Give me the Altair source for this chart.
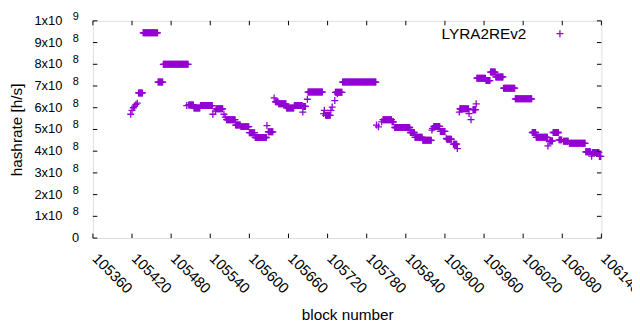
import altair as alt
import pandas as pd

series_name = "LYRA2REv2"

# runs of consecutive blocks with the same hashrate (units of 1e8 h/s)
run_start = [105430, 105437, 105460, 105468, 105507, 105515, 105525, 105549, 105565, 105579,
             105587, 105600, 105609, 105629, 105640, 105645, 105657, 105669, 105683, 105690,
             105717, 105732, 105743, 105805, 105819, 105823, 105847, 105854, 105866, 105883,
             105893, 105903, 105913, 105923, 105943, 105949, 105963, 105970, 105978, 105990,
             106008, 106034, 106040, 106062, 106066, 106075, 106082, 106091, 106116, 106126,
             106137]
run_end = [105436, 105459, 105467, 105506, 105514, 105524, 105543, 105559, 105578, 105586,
           105599, 105608, 105626, 105636, 105644, 105656, 105668, 105681, 105686, 105712,
           105724, 105742, 105794, 105818, 105821, 105846, 105853, 105865, 105879, 105892,
           105900, 105910, 105918, 105936, 105947, 105962, 105969, 105977, 105989, 106007,
           106033, 106039, 106057, 106065, 106074, 106079, 106089, 106115, 106123, 106136,
           106139]
run_value = [6.68, 9.45, 7.18, 8.00, 6.13, 5.99, 6.10, 5.95, 5.45, 5.20,
             5.13, 4.85, 4.63, 4.89, 6.27, 6.18, 5.99, 6.10, 6.06, 6.72,
             5.65, 6.71, 7.18, 5.45, 5.35, 5.09, 4.86, 4.64, 4.50, 5.14,
             4.91, 4.55, 4.32, 5.95, 5.91, 7.36, 7.25, 7.64, 7.42, 6.90,
             6.41, 4.86, 4.64, 4.47, 4.86, 4.52, 4.46, 4.36, 3.97, 3.94,
             3.76]

# isolated blocks
pt_block = [105418, 105420, 105422, 105424, 105426, 105428, 105504, 105544, 105548, 105561,
            105563, 105627, 105638, 105682, 105689, 105714, 105715, 105725, 105727, 105731,
            105735, 105795, 105798, 105803, 105880, 105881, 105902, 105919, 105922, 105937,
            105940, 105948, 106058, 106060, 106125]
pt_value = [5.70, 5.88, 6.00, 6.07, 6.15, 6.21, 6.10, 5.70, 5.85, 5.70,
            5.57, 5.18, 6.45, 5.80, 6.39, 5.73, 5.88, 5.88, 6.03, 6.33,
            6.64, 5.20, 5.12, 5.35, 4.97, 5.05, 4.59, 4.12, 5.80, 5.73,
            5.45, 6.18, 4.24, 4.44, 3.77]

x_ticks = [105360, 105420, 105480, 105540, 105600, 105660, 105720, 105780, 105840,
           105900, 105960, 106020, 106080, 106140]
x_tick_labels = [str(t) for t in x_ticks]
y_ticks = [0, 1e8, 2e8, 3e8, 4e8, 5e8, 6e8, 7e8, 8e8, 9e8, 1e9]
y_label_main = ["0", "1x10", "2x10", "3x10", "4x10", "5x10", "6x10", "7x10", "8x10", "9x10", "1x10"]
y_label_exp = ["", "8", "8", "8", "8", "8", "8", "8", "8", "8", "9"]

rows = []
for s, e, v in zip(run_start, run_end, run_value):
    for b in range(s, e + 1):
        rows.append({"block": b, "hashrate": v * 1e8})
for b, v in zip(pt_block, pt_value):
    rows.append({"block": b, "hashrate": v * 1e8})
df = pd.DataFrame(rows)

W, H = 515, 220
PURPLE = "#9400D3"
FONT = "Liberation Sans"
PLUS = "M-1,0H1M0,-1V1"
TICK = 4.5

xscale = alt.Scale(domain=[105360, 106140], nice=False, zero=False)
yscale = alt.Scale(domain=[0, 1e9], nice=False)

points = alt.Chart(df).mark_point(
    shape=PLUS, filled=False, size=50, strokeWidth=1.3, color=PURPLE, opacity=1
).encode(
    x=alt.X("block:Q", scale=xscale, title="block number",
            axis=alt.Axis(values=x_ticks, labels=False, tickSize=0, ticks=False,
                          domain=False, grid=False, titleFont=FONT, titleFontSize=15.5,
                          titleFontWeight="normal", titleColor="black",
                          titleY=82, titleBaseline="alphabetic")),
    y=alt.Y("hashrate:Q", scale=yscale, title="hashrate [h/s]",
            axis=alt.Axis(values=y_ticks, labels=False, tickSize=0, ticks=False,
                          domain=False, grid=False, titleFont=FONT,
                          titleFontSize=15.5, titleFontWeight="normal", titleColor="black",
                          titleX=-77, titleBaseline="middle")),
)

xt = pd.DataFrame({"t": x_ticks, "lab": x_tick_labels})
yt = pd.DataFrame({"t": y_ticks, "main": y_label_main, "exp": y_label_exp})
tick_style = dict(color="black", strokeWidth=1)

xb = alt.Chart(xt).mark_rule(**tick_style).encode(
    x=alt.X("t:Q", scale=xscale), y=alt.value(H), y2=alt.value(H - TICK))
xtop = alt.Chart(xt).mark_rule(**tick_style).encode(
    x=alt.X("t:Q", scale=xscale), y=alt.value(0), y2=alt.value(TICK))
yl = alt.Chart(yt).mark_rule(**tick_style).encode(
    y=alt.Y("t:Q", scale=yscale), x=alt.value(0), x2=alt.value(TICK))
yr = alt.Chart(yt).mark_rule(**tick_style).encode(
    y=alt.Y("t:Q", scale=yscale), x=alt.value(W), x2=alt.value(W - TICK))

xlab = alt.Chart(xt).mark_text(
    align="left", baseline="middle", angle=45, font=FONT, fontSize=15, color="black", dx=3
).encode(x=alt.X("t:Q", scale=xscale), y=alt.value(H + 16), text="lab:N")

ylab_main = alt.Chart(yt).transform_filter("datum.t > 0").mark_text(
    align="right", baseline="middle", font=FONT, fontSize=13, color="black"
).encode(y=alt.Y("t:Q", scale=yscale), x=alt.value(-31), text="main:N")
ylab_zero = alt.Chart(yt).transform_filter("datum.t == 0").mark_text(
    align="right", baseline="middle", font=FONT, fontSize=13, color="black"
).encode(y=alt.Y("t:Q", scale=yscale), x=alt.value(-14), text="main:N")
ylab_exp = alt.Chart(yt).transform_filter("datum.t > 0").mark_text(
    align="left", baseline="middle", font=FONT, fontSize=11, color="black", dy=-4
).encode(y=alt.Y("t:Q", scale=yscale), x=alt.value(-20.5), text="exp:N")

leg = pd.DataFrame({"label": [series_name]})
leg_text = alt.Chart(leg).mark_text(
    align="right", baseline="middle", font=FONT, fontSize=15.5, color="black"
).encode(text="label:N", x=alt.value(439), y=alt.value(13))
leg_sym = alt.Chart(leg).mark_point(
    shape=PLUS, filled=False, size=50, strokeWidth=1.3, color=PURPLE, opacity=1
).encode(x=alt.value(473), y=alt.value(13))

chart = alt.layer(points, xb, xtop, yl, yr, xlab, ylab_main, ylab_zero, ylab_exp,
                  leg_text, leg_sym).properties(
    width=W, height=H,
    autosize=alt.AutoSizeParams(type="none"),
    padding={"left": 86, "top": 11, "right": 31, "bottom": 83},
).configure_view(stroke="black", strokeWidth=1).configure(background="white")

chart.save("out.html", embed_options={"renderer": "svg", "actions": False})
